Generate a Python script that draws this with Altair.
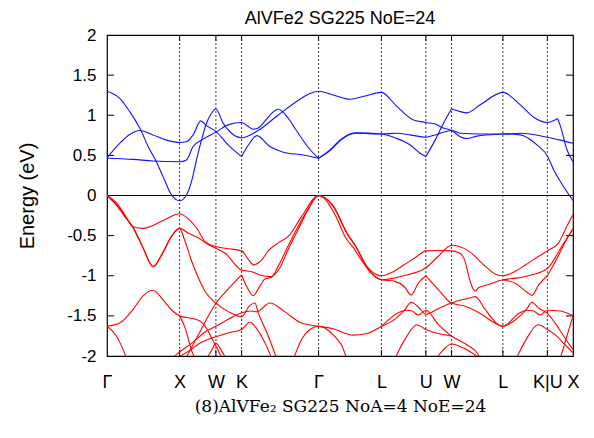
import altair as alt
import pandas as pd

TITLE = "AlVFe2 SG225 NoE=24"
CAPTION = "(8)AlVFe\u2082 SG225 NoA=4 NoE=24"
Y_TITLE = "Energy (eV)"

# high-symmetry path (k in units of 2*pi/a along the path)
sym_k = [0.0, 1.0, 1.5, 1.854, 2.914, 3.780, 4.392, 4.746, 5.453, 6.066, 6.419]
sym_labels = ["Γ", "X", "W", "K", "Γ", "L", "U", "W", "L", "K|U", "X"]
y_ticks = [-2, -1.5, -1, -0.5, 0, 0.5, 1, 1.5, 2]

# ---- conduction bands (blue): (k, E) ----
cb1 = [(0, 1.30), (0.175, 1.21), (0.313, 1.045), (0.451, 0.84), (0.589, 0.57), (0.658, 0.46),
       (0.772, 0.235), (0.888, 0.01), (1.0, -0.065), (1.095, 0.007), (1.164, 0.173), (1.233, 0.443),
       (1.302, 0.692), (1.371, 0.90), (1.440, 1.025), (1.5, 1.077), (1.600, 0.90), (1.716, 0.776),
       (1.854, 0.72), (2.065, 0.80), (2.355, 1.0), (2.658, 1.20), (2.796, 1.27), (2.914, 1.30),
       (3.117, 1.253), (3.347, 1.20), (3.554, 1.24), (3.780, 1.285), (3.992, 1.11), (4.221, 0.94),
       (4.392, 0.91), (4.520, 0.89), (4.635, 0.84), (4.746, 0.81), (4.865, 0.733), (4.957, 0.71),
       (5.095, 0.74), (5.453, 0.767), (5.693, 0.775), (6.066, 0.726), (6.244, 0.69), (6.419, 0.65)]
cb2 = [(0, 0.47), (0.175, 0.65), (0.313, 0.76), (0.451, 0.81), (0.634, 0.755), (0.819, 0.69),
       (1.0, 0.66), (1.095, 0.67), (1.186, 0.755), (1.292, 0.93), (1.371, 0.87), (1.5, 0.80),
       (1.668, 0.63), (1.854, 0.485)]
cb3 = [(1.854, 0.485), (1.941, 0.62), (2.065, 0.746), (2.244, 0.61), (2.428, 0.54), (2.704, 0.505),
       (2.914, 0.464)]
cb4 = [(0, 0.465), (0.359, 0.45), (0.634, 0.43), (1.0, 0.42), (1.095, 0.443), (1.186, 0.61),
       (1.302, 0.69), (1.5, 0.79), (1.668, 0.88), (1.854, 0.91), (1.930, 0.87), (2.013, 0.825),
       (2.082, 0.84), (2.178, 0.93), (2.275, 1.03), (2.358, 1.075), (2.482, 0.98), (2.616, 0.80),
       (2.799, 0.57), (2.914, 0.464)]
cb5 = [(2.914, 0.464), (3.071, 0.568), (3.209, 0.69), (3.347, 0.767), (3.440, 0.78), (3.780, 0.767),
       (3.992, 0.71), (4.175, 0.63), (4.313, 0.527), (4.392, 0.485)]
cb6 = [(4.392, 0.485), (4.520, 0.69), (4.635, 0.90), (4.746, 1.08)]
cb7 = [(4.746, 1.08), (4.865, 1.045), (4.957, 1.03), (5.141, 1.13), (5.453, 1.285), (5.693, 1.13),
       (5.877, 0.975), (6.066, 0.91), (6.207, 0.96)]
cb8 = [(6.207, 0.96), (6.244, 0.87), (6.336, 0.57), (6.419, 0.42)]
cb9 = [(2.914, 0.464), (3.071, 0.56), (3.209, 0.68), (3.347, 0.76), (3.440, 0.775), (3.780, 0.767),
       (3.990, 0.776), (4.175, 0.755), (4.392, 0.726), (4.520, 0.755), (4.746, 0.81), (4.865, 0.776),
       (5.141, 0.767), (5.453, 0.767), (5.693, 0.755), (5.923, 0.63), (6.066, 0.493), (6.152, 0.32),
       (6.290, 0.11), (6.419, -0.063)]

# ---- valence bands (red): (k, E) ----
vb1 = [(0, 0), (0.130, -0.091), (0.244, -0.237), (0.359, -0.39), (0.497, -0.41), (0.634, -0.373),
       (0.819, -0.29), (1.0, -0.228), (1.099, -0.275), (1.237, -0.408), (1.352, -0.574), (1.5, -0.636),
       (1.647, -0.66), (1.854, -0.69), (1.951, -0.80), (2.019, -0.865), (2.134, -0.80), (2.221, -0.69),
       (2.359, -0.59), (2.497, -0.51), (2.682, -0.26), (2.914, 0), (3.117, -0.13), (3.302, -0.46),
       (3.440, -0.65), (3.578, -0.88), (3.780, -1.0), (3.899, -0.97), (4.083, -0.87), (4.268, -0.76),
       (4.392, -0.69), (4.562, -0.685), (4.746, -0.69), (4.837, -0.71), (4.896, -0.75), (4.933, -0.82),
       (4.982, -1.0), (5.026, -1.13), (5.072, -1.19), (5.117, -1.15), (5.255, -1.11), (5.453, -1.05),
       (5.638, -1.03), (5.845, -0.99), (6.066, -0.91), (6.267, -0.63), (6.419, -0.415)]
vb2 = [(0, 0), (0.130, -0.12), (0.244, -0.26), (0.359, -0.40), (0.497, -0.65), (0.634, -0.888),
       (0.772, -0.71), (0.888, -0.51), (1.0, -0.41), (1.076, -0.574), (1.168, -0.823), (1.261, -1.03),
       (1.352, -1.196), (1.5, -1.342), (1.676, -1.45), (1.854, -1.51), (1.968, -1.37), (2.037, -1.34),
       (2.083, -1.46), (2.221, -1.75), (2.337, -2.03)]
vb3 = [(0, 0), (0.130, -0.115), (0.244, -0.255), (0.359, -0.40), (0.497, -0.655), (0.634, -0.885),
       (0.772, -0.705), (0.888, -0.51), (1.0, -0.41), (1.123, -0.47), (1.261, -0.53), (1.399, -0.615),
       (1.5, -0.657), (1.628, -0.72), (1.854, -0.93), (1.992, -0.95), (2.130, -0.996), (2.221, -1.01),
       (2.268, -1.01), (2.359, -0.88), (2.451, -0.71), (2.589, -0.46), (2.772, -0.17), (2.914, 0),
       (3.164, -0.28), (3.278, -0.51), (3.393, -0.65), (3.531, -0.84), (3.669, -0.99), (3.780, -1.05),
       (4.083, -1.0), (4.392, -0.90), (4.561, -0.76), (4.746, -0.62), (4.979, -0.69), (5.209, -0.88),
       (5.350, -0.98), (5.453, -1.0), (5.569, -0.97), (5.756, -0.87), (5.941, -0.76), (6.066, -0.69),
       (6.220, -0.59), (6.336, -0.38), (6.419, -0.24)]
vb4 = [(1.086, -2.03), (1.279, -1.70), (1.5, -1.342), (1.665, -1.17), (1.854, -0.99)]
vb5 = [(1.854, -0.99), (1.945, -1.17), (2.014, -1.25), (2.106, -1.13), (2.175, -1.04), (2.268, -1.015),
       (2.382, -0.90), (2.497, -0.67), (2.635, -0.42), (2.773, -0.17), (2.914, 0), (3.117, -0.14),
       (3.302, -0.47), (3.440, -0.66), (3.578, -0.90), (3.780, -1.05), (3.968, -1.07), (4.100, -1.14),
       (4.188, -1.24), (4.289, -1.09), (4.392, -1.0)]
vb6 = [(4.392, -1.0), (4.561, -1.17), (4.746, -1.34), (4.934, -1.38), (5.141, -1.47), (5.306, -1.57),
       (5.453, -1.63), (5.686, -1.46), (5.792, -1.43), (5.876, -1.44), (5.965, -1.49), (6.066, -1.43),
       (6.244, -1.44), (6.419, -1.50)]
vb7 = [(3.780, -1.63), (3.968, -1.54), (4.106, -1.42), (4.188, -1.33), (4.289, -1.39), (4.392, -1.48),
       (4.561, -1.41), (4.746, -1.34), (4.888, -1.30), (5.026, -1.27), (5.072, -1.26), (5.209, -1.42),
       (5.392, -1.61), (5.453, -1.63), (5.638, -1.54), (5.776, -1.42), (5.855, -1.33), (5.942, -1.40),
       (6.066, -1.47), (6.180, -1.60), (6.289, -1.75), (6.419, -1.92)]
vb8 = [(3.780, -1.63), (4.014, -1.46), (4.120, -1.43), (4.203, -1.44), (4.290, -1.49), (4.392, -1.43),
       (4.565, -1.61), (4.746, -1.75), (4.957, -1.86), (5.095, -1.96), (5.141, -2.03)]
vb9 = [(3.968, -2.03), (4.106, -1.79), (4.268, -1.61), (4.392, -1.67), (4.612, -1.73), (4.746, -1.75)]
vb10 = [(4.535, -2.03), (4.636, -1.92), (4.746, -1.85), (4.910, -1.90), (5.141, -2.03)]
vb11 = [(5.453, -1.05), (5.638, -1.10), (5.776, -1.20), (5.855, -1.245), (5.942, -1.12), (6.066, -1.0)]
vb12 = [(6.066, -1.0), (6.189, -0.80), (6.299, -0.60), (6.419, -0.415)]
vb13 = [(5.638, -2.03), (5.776, -1.79), (5.936, -1.61), (6.066, -1.67), (6.180, -1.74), (6.299, -1.85),
        (6.419, -1.96)]
vb14 = [(6.244, -2.03), (6.336, -1.75), (6.419, -1.50)]
vb15 = [(0, -1.63), (0.175, -1.59), (0.359, -1.42), (0.497, -1.25), (0.634, -1.18), (0.772, -1.30),
        (0.892, -1.43), (1.0, -1.50), (1.099, -1.52), (1.210, -1.54), (1.306, -1.58), (1.375, -1.66),
        (1.444, -1.78), (1.537, -1.94), (1.582, -2.03)]
vb16 = [(1.0, -1.50), (1.076, -1.65), (1.168, -1.94), (1.210, -2.03)]
vb17 = [(0, -1.63), (0.130, -1.75), (0.203, -1.88), (0.268, -2.03)]
vb18 = [(0.892, -2.03), (1.0, -1.95), (1.168, -1.84), (1.352, -1.70), (1.5, -1.63), (1.677, -1.54),
        (1.854, -1.46), (1.993, -1.44), (2.062, -1.45), (2.245, -1.34), (2.452, -1.45), (2.681, -1.59),
        (2.914, -1.63), (3.113, -1.66), (3.389, -1.74), (3.582, -1.72), (3.780, -1.63)]
vb19 = [(0.95, -2.03), (1.141, -1.93), (1.279, -1.84), (1.5, -1.76), (1.676, -1.71), (1.854, -1.67),
        (1.968, -1.58), (2.037, -1.63), (2.199, -1.88), (2.268, -2.03)]
vb20 = [(1.378, -2.03), (1.447, -1.92), (1.5, -1.84), (1.568, -1.92), (1.637, -2.03)]
vb21 = [(2.572, -2.03), (2.681, -1.79), (2.796, -1.67), (2.914, -1.63), (3.030, -1.67), (3.140, -1.76),
        (3.233, -1.87), (3.302, -2.03)]

conduction = [cb1, cb2, cb3, cb4, cb5, cb6, cb7, cb8, cb9]
valence = [vb1, vb2, vb3, vb4, vb5, vb6, vb7, vb8, vb9, vb10, vb11, vb12, vb13, vb14, vb15,
           vb16, vb17, vb18, vb19, vb20, vb21]

rows = []
for kind, group in (("c", conduction), ("v", valence)):
    for n, curve in enumerate(group):
        for i, (k, e) in enumerate(curve):
            rows.append({"curve": f"{kind}{n}", "kind": kind, "i": i, "k": k, "E": e})
bands = pd.DataFrame(rows)

sym_df = pd.DataFrame({"k": sym_k[1:-1]})
zero_df = pd.DataFrame({"E": [0.0]})
ytick_df = pd.DataFrame({"E": y_ticks[1:-1]})

W, H = 466, 321
xscale = alt.Scale(domain=[sym_k[0], sym_k[-1]], nice=False, zero=False)
yscale = alt.Scale(domain=[-2, 2], nice=False, zero=False)

x_label_expr = " : ".join(
    f"abs(datum.value - {k}) < 0.001 ? '{lab}'" for k, lab in zip(sym_k, sym_labels)
) + " : ''"
y_label_expr = "datum.value < 0 ? '-' + format(-datum.value, '~g') : format(datum.value, '~g')"

x_axis = alt.Axis(values=sym_k, labelExpr=x_label_expr, ticks=False, domain=False, grid=False,
                  labelFont="Liberation Sans", labelFontSize=18, labelColor="black",
                  labelPadding=17, labelOverlap=False, labelFlush=False,
                  title=CAPTION, titleFont="DejaVu Serif", titleFontSize=17,
                  titleFontWeight="normal", titleColor="black", titlePadding=7)
y_axis = alt.Axis(values=y_ticks, labelExpr=y_label_expr, ticks=False, domain=False, grid=False,
                  labelFont="Liberation Sans", labelFontSize=17, labelColor="black",
                  labelPadding=11, labelFlush=False,
                  title=Y_TITLE, titleFont="Liberation Sans", titleFontSize=20,
                  titleFontWeight="normal", titleColor="black", titlePadding=29)

X = alt.X("k:Q", scale=xscale, axis=x_axis)
Y = alt.Y("E:Q", scale=yscale, axis=y_axis)

vlines = alt.Chart(sym_df).mark_rule(color="black", strokeWidth=0.8, strokeDash=[2, 2]).encode(x=X)
xticks_bottom = alt.Chart(sym_df).mark_rule(color="black", strokeWidth=1).encode(
    x=X, y=alt.value(H), y2=alt.value(H - 6))
xticks_top = alt.Chart(sym_df).mark_rule(color="black", strokeWidth=1).encode(
    x=X, y=alt.value(0), y2=alt.value(6))
zero_line = alt.Chart(zero_df).mark_rule(color="black", strokeWidth=1.2).encode(y=Y)
yticks_left = alt.Chart(ytick_df).mark_rule(color="black", strokeWidth=1).encode(
    y=Y, x=alt.value(0), x2=alt.value(7))
yticks_right = alt.Chart(ytick_df).mark_rule(color="black", strokeWidth=1).encode(
    y=Y, x=alt.value(W - 7), x2=alt.value(W))

lines = alt.Chart(bands).mark_line(clip=True, strokeWidth=1.1, interpolate="monotone").encode(
    x=X,
    y=Y,
    color=alt.Color("kind:N", scale=alt.Scale(domain=["c", "v"], range=["#1010ff", "#ff0000"]),
                    legend=None),
    detail="curve:N",
    order=alt.Order("i:Q"),
)

chart = alt.layer(
    vlines, xticks_bottom, xticks_top, zero_line, yticks_left, yticks_right, lines
).properties(
    width=W, height=H,
    background="white",
    title=alt.TitleParams(TITLE, font="Liberation Sans", fontSize=18, fontWeight="normal",
                          color="black", anchor="middle", frame="group", offset=-2),
    autosize=alt.AutoSizeParams(type="none"),
    padding={"left": 99, "top": 27, "right": 13, "bottom": 74},
).configure_view(stroke="black", strokeWidth=1.2)

chart.save("out.html", embed_options={"renderer": "svg", "actions": False})
